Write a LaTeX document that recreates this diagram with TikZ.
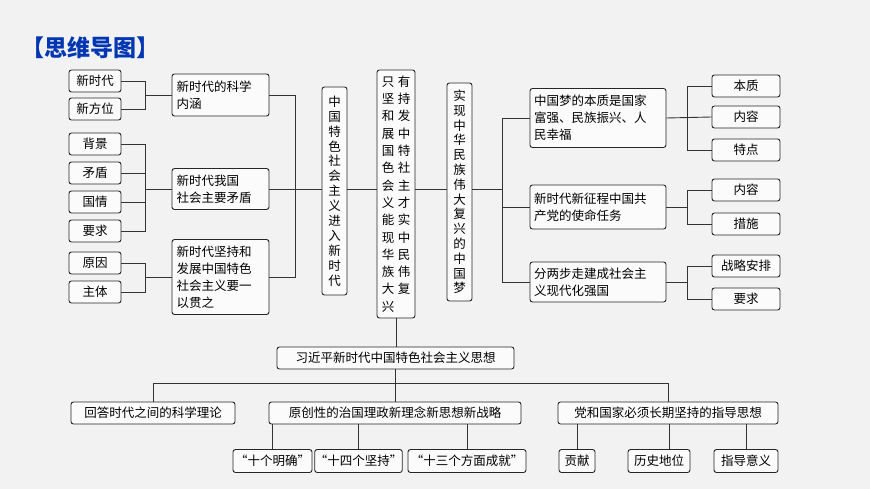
\documentclass[tikz,border=0pt]{standalone}
\usepackage{fontspec}
\newfontfamily\cjk{Noto Sans CJK SC}
\newcommand\pr[2]{\makebox[16pt]{#1}\makebox[16pt]{#2}}
\begin{document}
\begin{tikzpicture}[x=1pt,y=-1pt,
  bx/.style={draw=black!85, line width=0.9pt, rounded corners=2.5pt, inner sep=0pt, fill=white!60!gray!8,
     font=\cjk\fontsize{12.5}{17}\selectfont, align=center},
  ln/.style={draw=black!80, line width=0.9pt}]
\useasboundingbox (0,0) rectangle (870,489);
\fill[gray!10] (0,0) rectangle (870,489);
\node[font=\cjk\bfseries\fontsize{23}{26}\selectfont, text=blue!70!cyan!70!black] (title) at (90,48) {【思维导图】};
\foreach \n/\t/\y in {a1/新时代/81, a2/新方位/109, b1/背景/144, b2/矛盾/173, b3/国情/202, b4/要求/231, c1/原因/263, c2/主体/292}
  \node[bx, minimum width=52pt, minimum height=22pt] (\n) at (95,\y) {\t};
\node[bx, minimum width=97pt, minimum height=42pt, text width=88pt, align=left] (m1) at (220.5,95) {新时代的科学\\内涵};
\node[bx, minimum width=97pt, minimum height=41pt, text width=88pt, align=left] (m2) at (220.5,189) {新时代我国\\社会主要矛盾};
\node[bx, minimum width=97pt, minimum height=75pt, text width=88pt, align=left] (m3) at (220.5,277) {新时代坚持和\\发展中国特色\\社会主义要一\\以贯之};
\node[bx, minimum width=25pt, minimum height=208pt, font=\cjk\fontsize{12.5}{14.9}\selectfont] (v1) at (334.5,191) {中\\国\\特\\色\\社\\会\\主\\义\\进\\入\\新\\时\\代};
\node[bx, minimum width=38pt, minimum height=248pt, font=\cjk\fontsize{12.5}{17.3}\selectfont] (v2) at (396,194) {\pr{只}{有}\\\pr{坚}{持}\\\pr{和}{发}\\\pr{展}{中}\\\pr{国}{特}\\\pr{色}{社}\\\pr{会}{主}\\\pr{义}{才}\\\pr{能}{实}\\\pr{现}{中}\\\pr{华}{民}\\\pr{族}{伟}\\\pr{大}{复}\\\pr{兴}{}};
\node[bx, minimum width=25pt, minimum height=218pt, font=\cjk\fontsize{12.5}{14.8}\selectfont] (v3) at (459.5,192) {实\\现\\中\\华\\民\\族\\伟\\大\\复\\兴\\的\\中\\国\\梦};
\node[bx, minimum width=136pt, minimum height=59pt, text width=128pt, align=left] (r1) at (598,118) {中国梦的本质是国家\\富强、民族振兴、人\\民幸福};
\node[bx, minimum width=136pt, minimum height=44pt, text width=128pt, align=left] (r2) at (598,207) {新时代新征程中国共\\产党的使命任务};
\node[bx, minimum width=136pt, minimum height=40pt, text width=128pt, align=left] (r3) at (598,282) {分两步走建成社会主\\义现代化强国};
\foreach \n/\t/\y in {s1/本质/86, s2/内容/117, s3/特点/150, s4/内容/190, s5/措施/224, s6/战略安排/266, s7/要求/299}
  \node[bx, minimum width=68pt, minimum height=22pt] (\n) at (746,\y) {\t};
\node[bx, minimum width=237pt, minimum height=22pt] (x) at (395.5,358) {习近平新时代中国特色社会主义思想};
\node[bx, minimum width=164pt, minimum height=22pt] (d1) at (153,413) {回答时代之间的科学理论};
\node[bx, minimum width=252pt, minimum height=22pt] (d2) at (395,413) {原创性的治国理政新理念新思想新战略};
\node[bx, minimum width=220pt, minimum height=22pt] (d3) at (668,413) {党和国家必须长期坚持的指导思想};
\foreach \n/\t/\xa/\w in {e1/“十个明确”/272.5/79, e2/“十四个坚持”/358.5/79, e3/“十三个方面成就”/467/118, f1/贡献/577/36, f2/历史地位/659/62, f3/指导意义/746/64}
  \node[bx, minimum width=\w pt, minimum height=23pt] (\n) at (\xa,461) {\t};
\coordinate (L1) at (145,0);
\coordinate (L2) at (295,0);
\coordinate (R1) at (502,0);
\coordinate (R2) at (687,0);
\draw[ln] (a1.east) -- (a1.east -| L1) -- (a2.east -| L1) -- (a2.east);
\draw[ln] (m1.west) -- (m1.west -| L1);
\draw[ln] (b1.east) -- (b1.east -| L1) -- (b4.east -| L1) -- (b4.east);
\draw[ln] (b2.east) -- (b2.east -| L1);
\draw[ln] (b3.east) -- (b3.east -| L1);
\draw[ln] (m2.west) -- (m2.west -| L1);
\draw[ln] (c1.east) -- (c1.east -| L1) -- (c2.east -| L1) -- (c2.east);
\draw[ln] (m3.west) -- (m3.west -| L1);
\draw[ln] (m1.east) -- (m1.east -| L2) -- (m3.east -| L2) -- (m3.east);
\draw[ln] (m2.east) -- (v1.west |- m2.east);
\draw[ln] (v1.east |- m2.east) -- (v2.west |- m2.east);
\draw[ln] (v2.east |- m2.east) -- (v3.west |- m2.east);
\draw[ln] (v3.east |- m2.east) -- (m2.east -| R1);
\draw[ln] (r1.west) -- (r1.west -| R1) -- (r3.west -| R1) -- (r3.west);
\draw[ln] (r2.west) -- (r2.west -| R1);
\draw[ln] (s1.west) -- (s1.west -| R2) -- (s3.west -| R2) -- (s3.west);
\draw[ln] (s2.west) -- (r1.east);
\draw[ln] (s4.west) -- (s4.west -| R2) -- (s5.west -| R2) -- (s5.west);
\draw[ln] (r2.east) -- (r2.east -| R2);
\draw[ln] (s6.west) -- (s6.west -| R2) -- (s7.west -| R2) -- (s7.west);
\draw[ln] (r3.east) -- (r3.east -| R2);
\draw[ln] (v2.south) -- (v2.south |- x.north);
\coordinate (H) at (0,383);
\draw[ln] (x.south) -- (x.south |- d2.north);
\draw[ln] (d1.north) -- (d1.north |- H) -- (d3.north |- H) -- (d3.north);
\foreach \e in {e1,e2,e3} \draw[ln] (\e.north) -- (\e.north |- d2.south);
\draw[ln] (f1.north) -- (f1.north |- d3.south);
\draw[ln] (d3.south -| 669,0) -- (669,449);
\draw[ln] (f3.north) -- (f3.north |- d3.south);
\end{tikzpicture}
\end{document}
